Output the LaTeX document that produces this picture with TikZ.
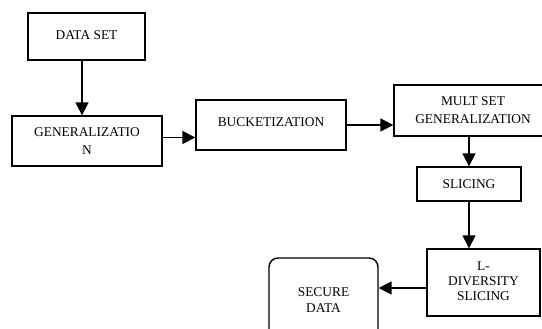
\documentclass[tikz,border=0pt]{standalone}
\usepackage{fontspec}
\setmainfont{Liberation Serif}
\usetikzlibrary{arrows.meta}
\begin{document}
\begin{tikzpicture}[x=1pt,y=-1pt,
  box/.style={draw=black, line width=1.4pt, rectangle, inner sep=0pt, align=center,
    font=\fontsize{13.4}{18}\selectfont},
  rbox/.style={box, rounded corners=9pt},
  arr/.style={line width=1.7pt, -{Triangle[length=13pt,width=13pt]}}]
\useasboundingbox (0,0) rectangle (542,329);
\clip (0,0) rectangle (542,329);
\node[box, minimum width=117, minimum height=47] (ds) at (86.5,36.5) {\raisebox{2pt}{DATA SET}};
\node[box, minimum width=150, minimum height=50] (gen) at (87,141) {GENERALIZATIO\\N};
\node[box, minimum width=150, minimum height=50] (buck) at (271,125) {\raisebox{5pt}{BUCKETIZATION}};
\node[box, minimum width=158, minimum height=51] (mult) at (473,110.5) {MULT SET\\GENERALIZATION};
\node[box, minimum width=104, minimum height=34] (sl) at (469,184) {SLICING};
\node[box, minimum width=113, minimum height=67] (ld) at (483.5,282.5) {\raisebox{-4pt}{\renewcommand\arraystretch{0.85}\begin{tabular}{@{}c@{}}L-\\DIVERSITY\\SLICING\end{tabular}}};
\node[rbox, minimum width=109, minimum height=87] (sec) at (323.5,301.5) {\raisebox{11pt}{\renewcommand\arraystretch{0.9}\begin{tabular}{@{}c@{}}SECURE\\DATA\end{tabular}}};
\coordinate (ax) at (82,0);
\coordinate (ay) at (0,137.5);
\coordinate (by) at (0,288);
\draw[arr] (ax |- ds.south) -- (ax |- gen.north);
\draw[arr] (gen.east |- ay) -- (buck.west |- ay);
\draw[arr] (buck.east) -- (buck.east -| mult.west);
\draw[arr] (sl.north |- mult.south) -- (sl.north);
\draw[arr] (sl.south) -- (sl.south |- ld.north);
\draw[arr] (ld.west |- by) -- (sec.east |- by);
\end{tikzpicture}
\end{document}
